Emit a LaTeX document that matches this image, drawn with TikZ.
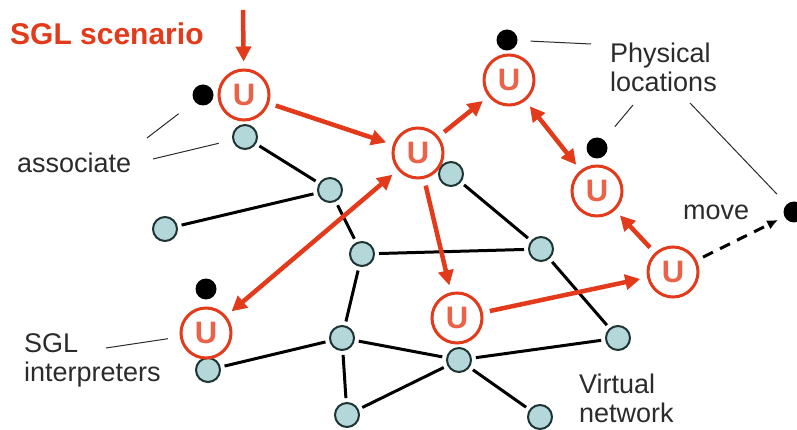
\documentclass[tikz,border=0pt]{standalone}
\usepackage{fontspec}
\setmainfont{Liberation Sans}
\usepackage{tikz}
\usetikzlibrary{arrows.meta}
\definecolor{sglred}{HTML}{E23A1A}
\definecolor{ulabel}{HTML}{EA6248}
\definecolor{vfill}{HTML}{B4D8DA}
\definecolor{vdraw}{HTML}{1E3434}
\definecolor{labelgray}{HTML}{2B2B2B}

\tikzset{
  unode/.style={circle,draw=sglred,line width=3pt,fill=white,minimum size=50pt,inner sep=0pt,
    text=ulabel,font=\fontsize{31}{31}\selectfont\bfseries},
  vnode/.style={circle,draw=vdraw,line width=2pt,fill=vfill,minimum size=24pt,inner sep=0pt},
  pnode/.style={circle,fill=black,minimum size=21pt,inner sep=0pt},
  link/.style={line width=3pt,shorten <=4pt,shorten >=4pt},
  sglarrow/.style={sglred,line width=4.5pt,-{Triangle[length=15pt,width=15pt]},shorten <=7pt,shorten >=7pt},
  sglboth/.style={sglarrow,{Triangle[length=15pt,width=15pt]}-{Triangle[length=15pt,width=15pt]}},
  pointer/.style={labelgray,line width=1pt},
  lbl/.style={text=labelgray,font=\fontsize{27}{29}\selectfont,align=left,inner sep=0pt}
}

\begin{document}
\begin{tikzpicture}[x=1pt,y=-1pt]
\useasboundingbox (0,0) rectangle (797,430);

%% virtual network
\foreach \n/\x/\y in {1/245/137, 2/330/190, 3/165/229, 4/362/254, 5/451/174, 6/541/249,
                      7/342/338, 8/208/370, 9/347/415, 10/459/360, 11/618/338, 12/540/417}
  \node[vnode] (v\n) at (\x,\y) {};
\foreach \a/\b in {1/2, 2/3, 2/4, 4/6, 5/6, 6/11, 4/7, 7/8, 7/10, 7/9, 9/10, 10/11, 10/12}
  \draw[link] (v\a) -- (v\b);

%% interpreters
\node[unode] (uA) at (244,95) {U};
\node[unode] (uB) at (418,153) {U};
\node[unode] (uC) at (509,80) {U};
\node[unode] (uD) at (597,191) {U};
\node[unode] (uE) at (673,272) {U};
\node[unode] (uF) at (457,318) {U};
\node[unode] (uG) at (206,333) {U};

%% physical locations
\node[pnode] (pA) at (203,95) {};
\node[pnode] (pC) at (507,40) {};
\node[pnode] (pD) at (597,148) {};
\node[pnode] (pG) at (206,289) {};
\node[pnode] (pMove) at (794,212) {};

%% scenario flow
\coordinate (scen) at (243,10);
\draw[sglarrow,shorten <=0pt] (scen) -- (uA);
\foreach \a/\b in {A/B, B/C, B/F, F/E, E/D}
  \draw[sglarrow] (u\a) -- (u\b);
\draw[sglboth] (uC) -- (uD);
\draw[sglboth] (uB) -- (uG);
\draw[line width=3pt,dash pattern=on 11pt off 8pt,-{Latex[length=11pt,width=10pt]},
      shorten <=7pt,shorten >=7pt] (uE) -- (pMove);

%% labels
\node[text=sglred,font=\fontsize{30}{30}\selectfont\bfseries,anchor=base west,inner sep=0pt]
  (scenario) at (10,45) {SGL scenario};
\node[lbl,anchor=base west] (assoc) at (17,173) {associate};
\node[lbl,anchor=north west] (phys) at (610,43) {Physical\\locations};
\node[lbl,anchor=north west] (interp) at (24,333) {SGL\\interpreters};
\node[lbl,anchor=north west] (virt) at (579,374) {Virtual\\network};
\node[lbl,anchor=base west] (mv) at (683,220) {move};

%% pointer lines
\coordinate (aA) at (147,138);
\coordinate (aB) at (153,159);
\coordinate (lA) at (591,44);
\coordinate (lB) at (633,105);
\coordinate (lC) at (690,103);
\coordinate (iA) at (106,348);
\draw[pointer,shorten >=20pt] (aA) -- (pA);
\draw[pointer,shorten >=14pt] (aB) -- (v1);
\draw[pointer,shorten <=13pt] (pC) -- (lA);
\draw[pointer,shorten >=17pt] (lB) -- (pD);
\draw[pointer,shorten >=14pt] (lC) -- (pMove);
\draw[pointer,shorten >=12pt] (iA) -- (uG);
\end{tikzpicture}
\end{document}
